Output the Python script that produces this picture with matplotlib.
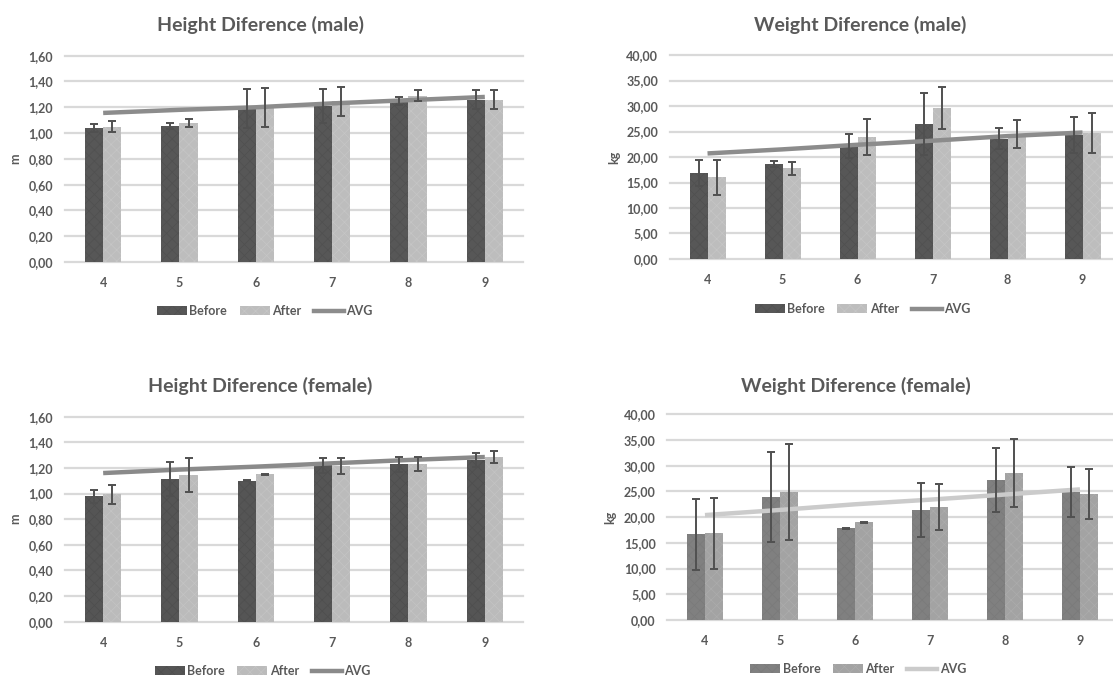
import matplotlib
matplotlib.use('Agg')
import matplotlib.pyplot as plt
from matplotlib.patches import Patch
from matplotlib.lines import Line2D
import numpy as np

plt.rcParams['font.family'] = ['Lato', 'DejaVu Sans']
plt.rcParams['hatch.linewidth'] = 0.5

ages = ['4', '5', '6', '7', '8', '9']

# Height male (m)
hm_before = [1.04, 1.055, 1.19, 1.21, 1.25, 1.26]
hm_before_err = [0.03, 0.025, 0.15, 0.13, 0.03, 0.07]
hm_after = [1.05, 1.08, 1.20, 1.245, 1.29, 1.26]
hm_after_err = [0.04, 0.03, 0.15, 0.11, 0.04, 0.07]
hm_avg = [1.156, 1.18, 1.20, 1.23, 1.255, 1.28]

# Weight male (kg)
wm_before = [16.9, 18.6, 22.2, 26.4, 23.6, 24.3]
wm_before_err = [2.5, 0.65, 2.3, 6.1, 2.0, 3.6]
wm_after = [16.0, 17.8, 23.9, 29.6, 24.5, 24.7]
wm_after_err = [3.4, 1.3, 3.5, 4.1, 2.7, 4.0]
wm_avg = [20.7, 21.5, 22.4, 23.2, 24.1, 24.8]

# Height female (m)
hf_before = [0.98, 1.113, 1.10, 1.22, 1.228, 1.262]
hf_before_err = [0.05, 0.135, 0.003, 0.06, 0.057, 0.057]
hf_after = [0.995, 1.145, 1.15, 1.215, 1.232, 1.285]
hf_after_err = [0.073, 0.13, 0.003, 0.063, 0.055, 0.05]
hf_avg = [1.16, 1.187, 1.21, 1.236, 1.262, 1.285]

# Weight female (kg)
wf_before = [16.7, 23.9, 17.8, 21.4, 27.2, 24.9]
wf_before_err = [6.9, 8.8, 0.05, 5.2, 6.2, 4.9]
wf_after = [16.9, 24.9, 19.0, 22.0, 28.6, 24.5]
wf_after_err = [6.9, 9.4, 0.05, 4.5, 6.6, 4.8]
wf_avg = [20.4, 21.4, 22.5, 23.4, 24.4, 25.4]

height_ticks = [0.0, 0.2, 0.4, 0.6, 0.8, 1.0, 1.2, 1.4, 1.6]
weight_ticks = [0, 5, 10, 15, 20, 25, 30, 35, 40]

TXT = '#595959'
GRID = '#d9d9d9'
ERR = '#505050'

fig = plt.figure(figsize=(11.13, 6.75), dpi=100)
fig.patch.set_facecolor('white')

panels = [
    dict(pos=[0.0584, 0.6119, 0.4115, 0.3056], title='Height Diference (male)',
         tx=0.2345, ty=0.963, b=hm_before, be=hm_before_err, a=hm_after, ae=hm_after_err,
         avg=hm_avg, ticks=height_ticks, ylabel='m', ylx=0.014, lx=0.238, ly=0.534,
         cb='#575757', hb='#505050', ca='#bdbdbd', ha='#c6c6c6', cl='#8c8c8c'),
    dict(pos=[0.602, 0.6163, 0.4043, 0.3022], title='Weight Diference (male)',
         tx=0.7727, ty=0.963, b=wm_before, be=wm_before_err, a=wm_after, ae=wm_after_err,
         avg=wm_avg, ticks=weight_ticks, ylabel='kg', ylx=0.552, lx=0.775, ly=0.537,
         cb='#575757', hb='#505050', ca='#bdbdbd', ha='#c6c6c6', cl='#8c8c8c'),
    dict(pos=[0.0584, 0.079, 0.4115, 0.3037], title='Height Diference (female)',
         tx=0.2336, ty=0.428, b=hf_before, be=hf_before_err, a=hf_after, ae=hf_after_err,
         avg=hf_avg, ticks=height_ticks, ylabel='m', ylx=0.014, lx=0.236, ly=0.001,
         cb='#555555', hb='#4e4e4e', ca='#bbbbbb', ha='#c4c4c4', cl='#8a8a8a'),
    dict(pos=[0.5997, 0.0815, 0.4043, 0.3047], title='Weight Diference (female)',
         tx=0.769, ty=0.428, b=wf_before, be=wf_before_err, a=wf_after, ae=wf_after_err,
         avg=wf_avg, ticks=weight_ticks, ylabel='kg', ylx=0.548, lx=0.771, ly=0.004,
         cb='#808080', hb='#7a7a7a', ca='#a3a3a3', ha='#acacac', cl='#cbcbcb'),
]

bw = 0.24
for p in panels:
    ax = fig.add_axes(p['pos'])
    x = np.arange(len(ages))
    ax.set_xlim(-0.5, len(ages) - 0.5)
    ax.set_ylim(p['ticks'][0], p['ticks'][-1])
    ax.set_yticks(p['ticks'])
    ax.set_yticklabels([f"{t:.2f}".replace('.', ',') for t in p['ticks']])
    ax.set_xticks(x)
    ax.set_xticklabels(ages)
    for s in ax.spines.values():
        s.set_visible(False)
    ax.tick_params(length=0, labelsize=9, labelcolor=TXT)
    ax.tick_params(axis='y', pad=8.5)
    ax.tick_params(axis='x', pad=11)
    for lab in ax.get_xticklabels() + ax.get_yticklabels():
        lab.set_fontweight('bold')
    ax.yaxis.grid(True, color=GRID, linewidth=1.6)
    ax.set_axisbelow(True)
    ax.bar(x - bw / 2, p['b'], bw, color=p['cb'], edgecolor=p['hb'], linewidth=0,
           hatch='xxx', zorder=2)
    ax.bar(x + bw / 2, p['a'], bw, color=p['ca'], edgecolor=p['ha'], linewidth=0,
           hatch='xxx', zorder=2)
    ax.plot(x, p['avg'], color=p['cl'], linewidth=3.2, zorder=3, solid_capstyle='butt')
    ax.errorbar(x - bw / 2, p['b'], yerr=p['be'], fmt='none', ecolor=ERR,
                elinewidth=1.4, capsize=3, capthick=1.4, zorder=4)
    ax.errorbar(x + bw / 2, p['a'], yerr=p['ae'], fmt='none', ecolor=ERR,
                elinewidth=1.4, capsize=3, capthick=1.4, zorder=4)
    for ln in ax.get_ygridlines():
        ln.set_clip_on(False)
    ycen = p['pos'][1] + p['pos'][3] / 2
    fig.text(p['ylx'], ycen, p['ylabel'], rotation=90, ha='center', va='center',
             fontsize=9, fontweight='bold', color=TXT)
    fig.text(p['tx'], p['ty'], p['title'], ha='center', va='center',
             fontsize=14, fontweight='bold', color=TXT)
    handles = [Patch(facecolor=p['cb'], edgecolor=p['hb'], linewidth=0, hatch='xxx'),
               Patch(facecolor=p['ca'], edgecolor=p['ha'], linewidth=0, hatch='xxx'),
               Line2D([0], [0], color=p['cl'], linewidth=3.2)]
    leg = fig.legend(handles, ['Before', 'After', 'AVG'], loc='center',
                     bbox_to_anchor=(p['lx'], p['ly'] + 0.005), ncol=3, frameon=False,
                     fontsize=9, handlelength=2.4, handleheight=0.7, handletextpad=0.2,
                     columnspacing=1.0, borderpad=0)
    for t in leg.get_texts():
        t.set_color(TXT)
        t.set_fontweight('bold')

fig.savefig('out.png', dpi=100, facecolor='white')
